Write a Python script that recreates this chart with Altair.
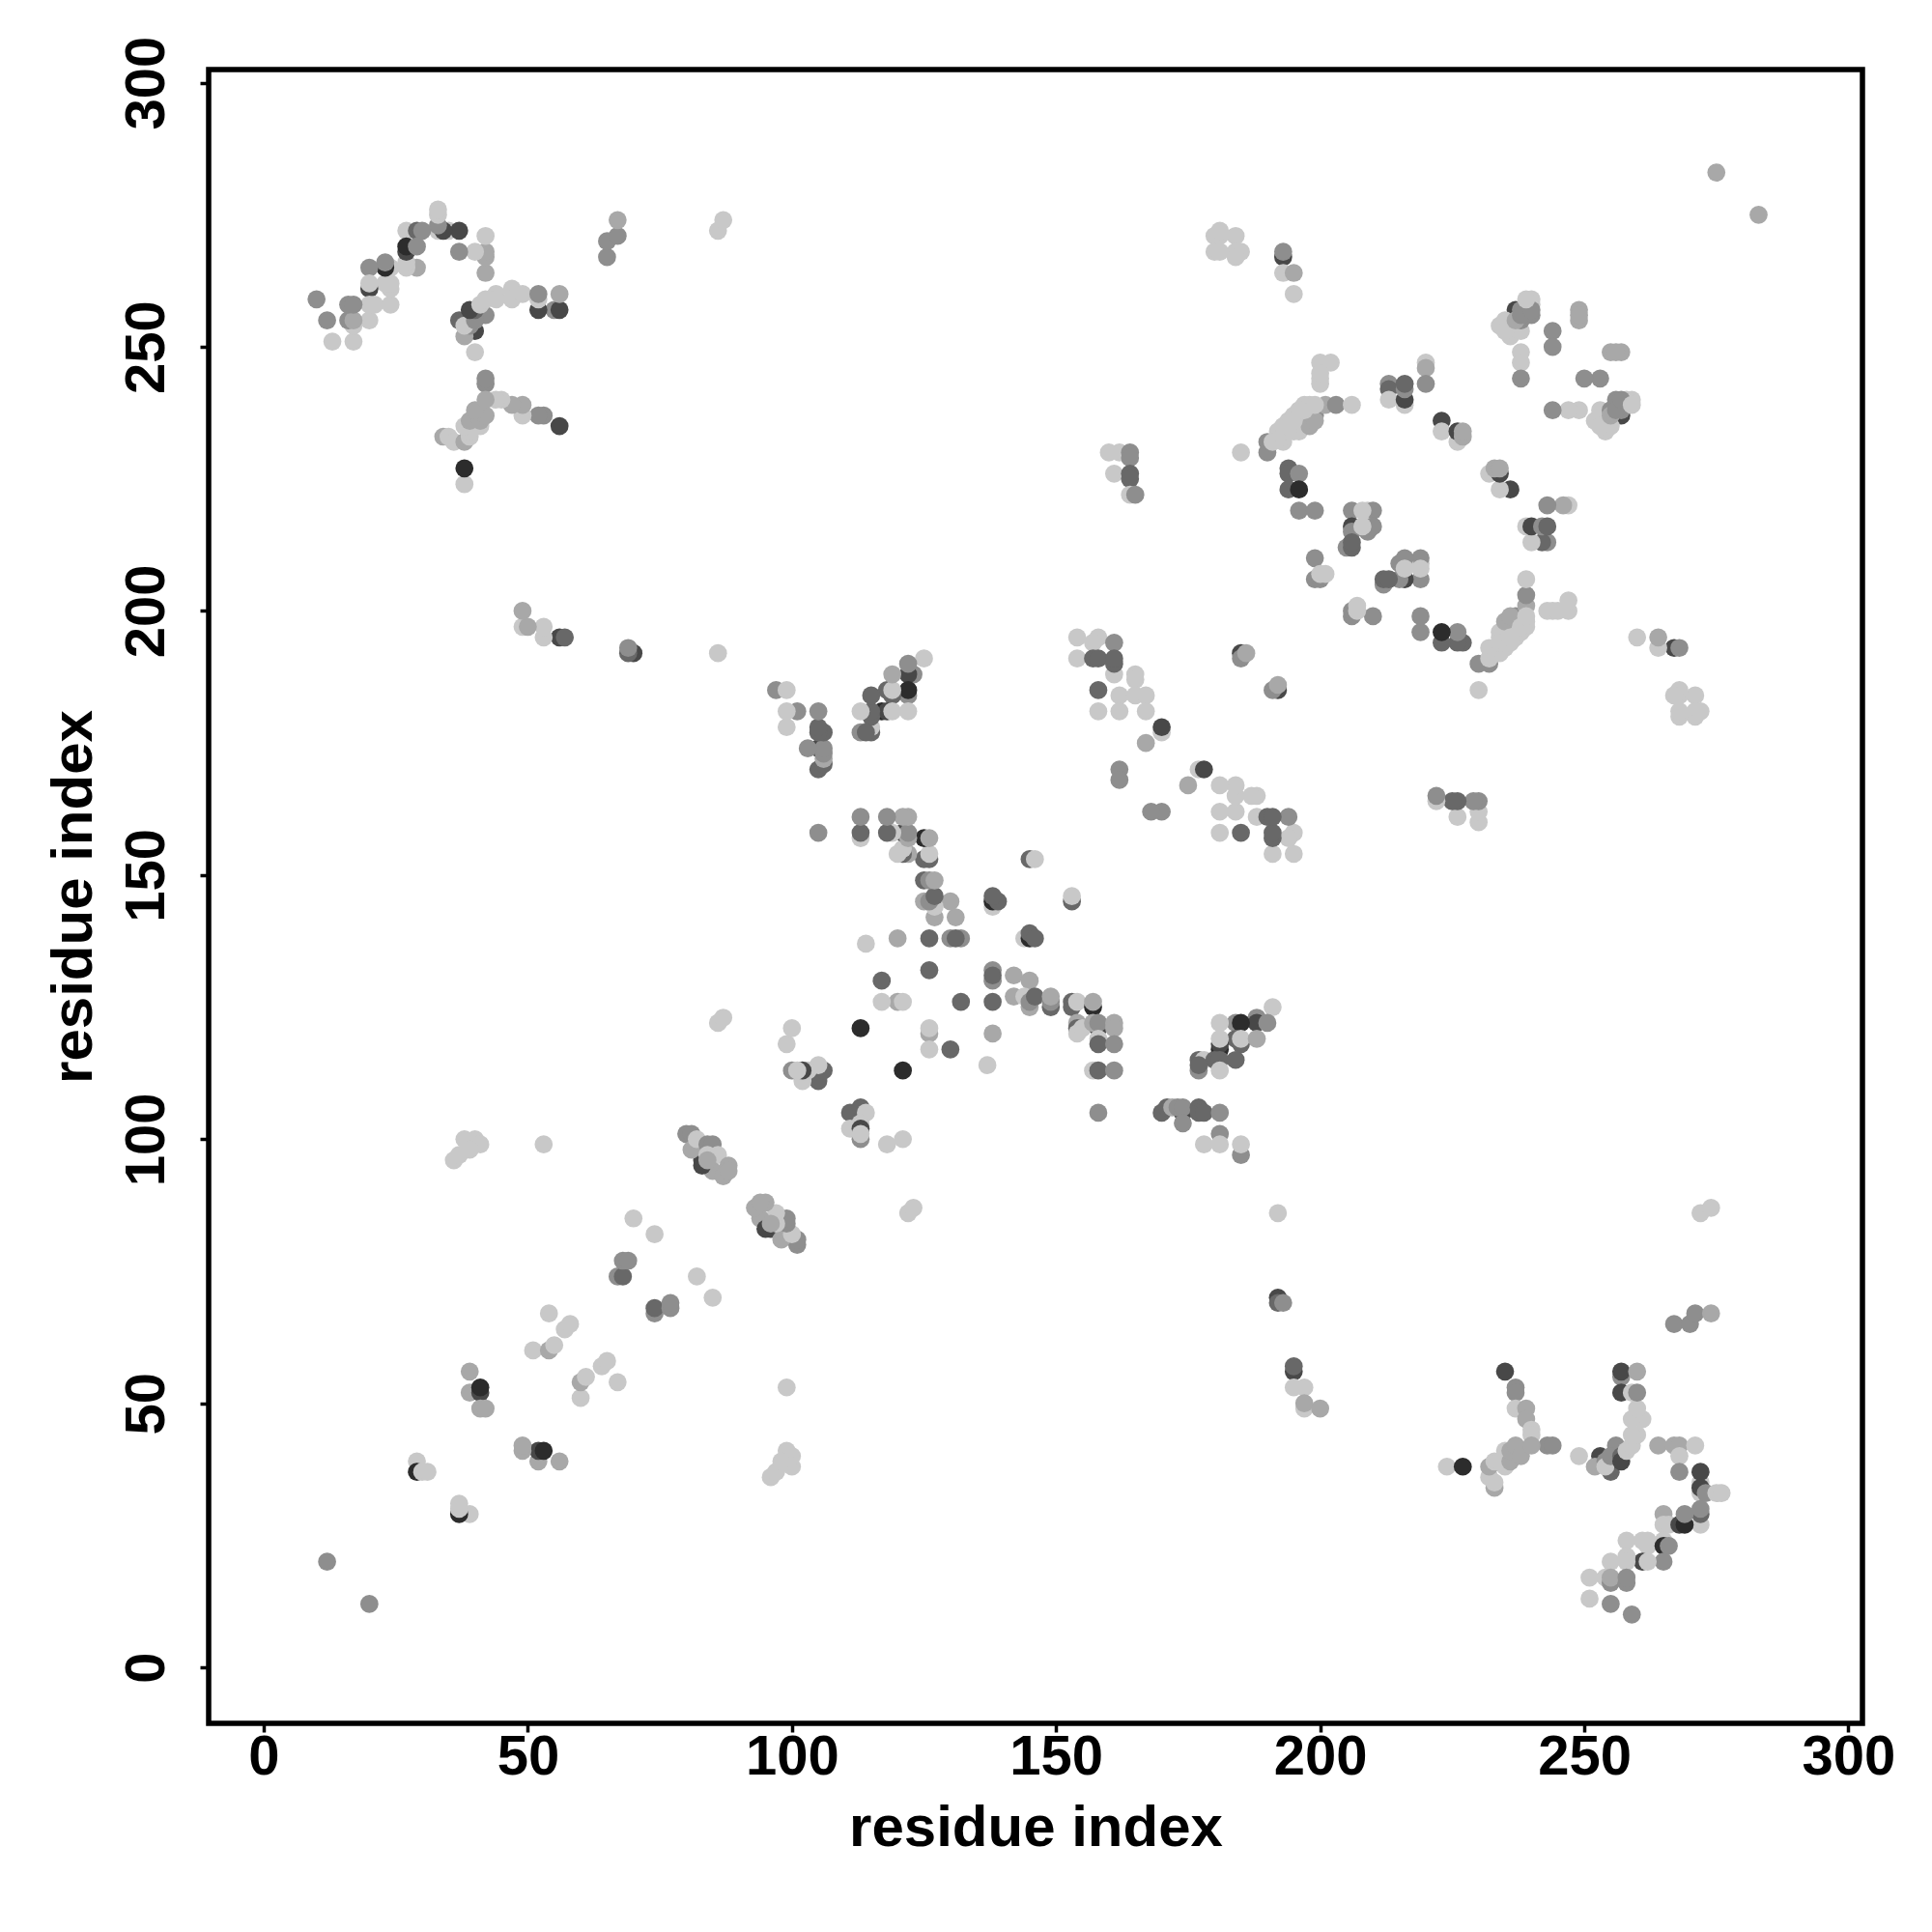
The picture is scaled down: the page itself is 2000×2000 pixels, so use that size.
import altair as alt
import pandas as pd

# Contact map: each contact (i, j, tone) with i > j; the map is symmetric.
near_diag_a = [(20,12,"M"),(29,39,"L"),(29,37,"V"),(30,37,"L"),(31,37,"L"),(37,29,"V"),(37,31,"L"),(37,30,"L"),(39,29,"L"),
 (39,56,"A"),(39,52,"A"),(41,52,"K"),(41,53,"V"),(41,49,"A"),(42,49,"A"),(49,42,"A"),(49,41,"A"),(52,41,"K"),(53,41,"V"),
 (52,39,"A"),(56,39,"M"),(51,60,"L"),(54,60,"A"),(55,61,"L"),(54,67,"L"),(57,64,"L"),(58,65,"L"),(60,51,"L"),(60,54,"A"),
 (61,55,"L"),(64,57,"L"),(65,58,"L"),(67,54,"L"),(67,74,"M"),(68,74,"D"),(68,77,"M"),(69,77,"M"),(70,85,"L"),(74,82,"L"),
 (74,67,"M"),(74,68,"D"),(77,69,"M"),(77,68,"M"),(82,74,"L"),(85,70,"L"),(12,20,"M")]
strand_b = [(53,99,"L"),(36,96,"L"),(37,97,"L"),(38,100,"L"),(40,100,"L"),(41,99,"L"),(39,98,"L"),
 (99,53,"L"),(96,36,"L"),(97,37,"L"),(99,41,"L"),(100,40,"L"),(100,38,"L"),(98,39,"L")]
helix_c = [(83,96,"K"),(80,101,"M"),(81,101,"M"),(81,98,"A"),(82,100,"L"),(84,99,"M"),(85,99,"M"),(84,97,"L"),(86,97,"L"),
 (85,94,"A"),(87,93,"A"),(88,95,"A"),(88,94,"A"),(95,83,"K"),(93,87,"A"),(95,88,"A"),(94,85,"A"),(96,84,"A"),(97,86,"L"),
 (99,84,"M"),(98,81,"A"),(101,81,"M"),(101,80,"M"),(100,82,"L")]
centre_d = [(153,145,"D"),(153,146,"L"),(144,138,"L"),(145,138,"V"),(145,139,"D"),(146,138,"D"),(138,132,"M"),(138,130,"M"),(138,131,"D"),
 (142,131,"A"),(145,130,"A"),(142,127,"A"),(144,127,"L"),(145,125,"A"),(145,126,"M"),(146,127,"D"),(149,125,"D"),(149,126,"M"),(149,127,"A"),
 (138,126,"D"),(132,126,"D"),(126,120,"A"),(126,121,"L"),(126,117,"L"),(130,117,"D"),(138,120,"A"),(137,114,"L"),(121,113,"V"),
 (153,126,"D"),(153,125,"D"),(154,126,"L"),(157,125,"V"),(157,126,"A"),(154,122,"A"),(154,121,"D"),(154,120,"L"),(155,121,"L"),
 (158,121,"K"),(157,122,"A"),(158,122,"M"),(158,119,"L"),(158,118,"D"),(161,122,"A"),(161,121,"A"),(161,118,"M"),
 (157,113,"L"),(158,113,"D"),(161,113,"M"),(158,105,"M"),(111,105,"D"),(113,106,"D"),(114,105,"L"),(113,103,"L"),(111,102,"L"),
 (113,100,"M"),(113,102,"K"),(113,101,"L"),(118,99,"L"),(121,100,"L")]
bridge_e = [(170,105,"D"),(171,106,"D"),(172,106,"A"),(174,105,"K"),(173,106,"M"),(174,106,"M"),(174,103,"M"),(177,106,"D"),(177,105,"D"),(178,105,"D"),
 (181,105,"M"),(181,101,"M"),(178,99,"L"),(181,99,"L"),(185,97,"M"),(185,99,"L"),
 (191,125,"L"),(188,123,"M"),(188,122,"K"),(184,122,"M"),(185,122,"V"),(181,122,"L"),(190,122,"M"),(184,119,"D"),(185,118,"D"),(185,119,"L"),(188,119,"A"),
 (181,117,"V"),(181,118,"K"),(181,119,"L"),(177,115,"D"),(178,115,"L"),(180,115,"D"),(181,115,"D"),(184,115,"D"),(177,113,"M"),(177,114,"D"),(181,113,"L")]
sheet_f = [(154,195,"L"),(158,195,"L"),(157,194,"L"),(161,194,"M"),(154,191,"L"),(157,191,"D"),(158,191,"D"),(161,188,"L"),(161,190,"D"),(161,191,"D"),
 (165,188,"L"),(165,187,"L"),(158,185,"D"),(162,184,"L"),(165,184,"L"),(167,184,"L"),(158,181,"L"),(162,181,"L"),(167,181,"L"),
 (170,177,"L"),(170,178,"K"),(167,175,"A"),(162,170,"M"),(162,168,"M"),(168,162,"M"),(170,162,"M"),(177,170,"L"),(178,170,"K"),(175,167,"A"),
 (181,167,"L"),(184,167,"L"),(184,165,"A"),(187,165,"L"),(188,165,"L"),(181,162,"L"),(184,162,"L"),(188,161,"L"),(190,161,"M"),(191,161,"D"),(194,161,"M"),
 (181,158,"L"),(185,158,"D"),(191,158,"D"),(191,157,"D"),(195,158,"L"),(194,157,"L"),(191,154,"L"),(195,154,"L"),
 (185,192,"K"),(185,191,"M"),(186,192,"A"),(191,185,"D"),(192,185,"K"),(192,186,"A")]
upper_g = [(160,230,"L"),(162,230,"L"),(161,226,"L"),(164,230,"M"),(164,229,"M"),(164,226,"D"),(164,225,"D"),(164,222,"L"),(165,222,"M"),
 (180,271,"L"),(180,268,"L"),(184,271,"L"),(184,268,"L"),(185,268,"L"),(184,267,"L"),(185,230,"L"),
 (193,267,"K"),(193,268,"M"),(193,264,"L"),(195,264,"A"),(195,260,"L"),(275,283,"A"),(283,275,"A")]
knot_h = [(237,257,"K"),(234,254,"L"),(235,255,"L"),(236,252,"L"),(236,253,"L"),(238,253,"L"),(238,255,"M"),(238,257,"M"),(240,256,"M"),
 (240,259,"L"),(240,258,"L"),(249,257,"A"),(249,255,"A"),(244,253,"M"),(244,250,"M"),(238,249,"L"),(238,247,"L"),(238,244,"M"),
 (255,249,"A"),(256,249,"A"),(257,249,"A"),(250,244,"M"),(253,244,"M"),(244,238,"M"),(247,238,"L"),(249,238,"L"),
 (253,238,"L"),(252,236,"L"),(253,235,"L"),(254,234,"L"),(255,235,"A"),(255,237,"A"),(257,237,"K"),(256,238,"M"),(256,240,"M"),(257,240,"M"),(258,240,"A"),(259,239,"L"),(259,240,"L")]
arc_i = [(190,232,"M"),(190,230,"M"),(198,236,"M"),(199,237,"M"),(193,232,"L"),(192,234,"L"),(195,234,"L"),(193,235,"L"),(194,236,"L"),(196,234,"L"),(197,236,"L"),(195,237,"L"),(196,238,"L"),(197,239,"L"),(198,239,"L"),
 (201,239,"A"),(203,239,"M"),(206,239,"L"),(200,247,"L"),(202,247,"L"),(200,244,"L"),(200,243,"L"),
 (213,243,"M"),(213,242,"D"),(213,240,"L"),(216,239,"L"),(216,240,"K"),(216,242,"M"),(216,243,"D"),(220,247,"L"),(220,246,"A"),(220,243,"M"),
 (223,236,"K"),(223,234,"L"),(226,232,"L"),(226,234,"K"),(227,233,"A"),(227,234,"A"),
 (194,227,"D"),(194,226,"D"),(196,226,"M"),(194,223,"D"),(196,223,"V"),(196,219,"M"),(199,219,"M")]
ring_j = [(206,219,"M"),(209,219,"L"),(210,219,"M"),(206,216,"K"),(206,215,"M"),(209,216,"L"),(209,215,"M"),(210,216,"M"),(205,212,"M"),(206,212,"D"),
 (199,210,"M"),(199,206,"M"),(200,206,"M"),(200,207,"L"),(201,207,"L"),(215,209,"M"),(216,208,"L"),(216,210,"M"),(219,208,"L"),(219,210,"M"),
 (212,205,"M"),(212,206,"D"),(213,206,"D"),(215,206,"M"),(216,206,"K"),(219,206,"M"),(206,199,"M"),(206,200,"L"),(207,200,"L"),(207,201,"L"),(210,199,"M"),
 (219,199,"A"),(219,196,"M"),(223,194,"D"),(226,196,"M"),(223,196,"V"),(226,194,"D"),(227,194,"D"),(230,190,"M"),(232,190,"M"),(230,185,"L"),
 (235,198,"A"),(236,199,"A"),(239,203,"A"),(239,201,"A"),(239,206,"L"),(232,191,"L"),(232,193,"L"),(233,193,"L"),(234,194,"L"),(235,194,"L"),(234,196,"L"),(236,195,"L"),(238,197,"L"),(239,197,"L"),(239,199,"L"),
 (244,200,"L"),(245,200,"L"),(247,202,"L"),(247,200,"L")]
ring_k = [(233,227,"A"),(232,226,"L"),(234,226,"K"),(234,227,"A"),(234,223,"L"),(236,223,"K"),(243,220,"M"),(246,220,"A"),(247,220,"L"),
 (239,216,"L"),(240,216,"K"),(242,216,"D"),(243,216,"D"),(240,213,"L"),(242,213,"D"),(243,213,"M"),
 (260,195,"L"),(264,195,"A"),(264,193,"L"),(267,193,"K"),(268,193,"M"),(268,185,"L"),(267,184,"L"),(268,184,"L"),(271,184,"L"),(268,181,"L"),(271,181,"L"),(272,181,"L")]
far_l = [(192,70,"K"),(192,69,"D"),(193,69,"M"),(192,86,"L"),(195,56,"K"),(195,57,"D"),(195,53,"L"),(197,53,"L"),(197,49,"L"),(197,50,"A"),(200,49,"A"),
 (122,86,"L"),(123,87,"L"),(272,86,"L"),(274,87,"L"),(267,65,"M"),(270,65,"M"),(271,67,"M"),(274,67,"A")]
loop_m = [(224,38,"L"),(227,38,"V"),(235,56,"K"),(237,53,"M"),(237,52,"M"),(237,49,"L"),(239,49,"A"),(239,47,"A"),(240,45,"L"),(240,44,"L"),(243,42,"M"),(244,42,"M"),
 (233,34,"A"),(233,35,"L"),(232,36,"L"),(232,38,"A"),(233,39,"L"),(234,39,"L"),(235,38,"L"),(235,41,"L"),(236,39,"A"),(236,41,"A"),(237,42,"A"),(238,40,"A"),(240,42,"A")]
loop_n = [(249,40,"L"),(253,40,"K"),(252,38,"A"),(255,37,"D"),(255,38,"D"),(254,39,"M"),(254,38,"L"),(256,42,"M"),(255,40,"M"),(257,40,"D"),(257,39,"K"),(258,41,"L"),(259,42,"L"),
 (260,44,"L"),(259,44,"L"),(261,47,"L"),(259,47,"L"),(260,49,"L"),(257,55,"M"),(257,56,"K"),(260,56,"A"),(257,52,"K"),(259,52,"L"),(260,52,"M"),
 (264,42,"A"),(267,42,"A"),(268,42,"A"),(271,42,"L"),(268,40,"L"),(268,37,"M")]
tail_o = [(272,35,"L"),(272,37,"K"),(272,33,"L"),(272,34,"K"),(273,33,"M"),(275,33,"L"),(276,33,"L"),(272,27,"L"),(272,29,"D"),(272,30,"M"),
 (265,29,"A"),(265,27,"L"),(266,27,"L"),(268,27,"K"),(269,27,"V"),(269,29,"M"),(258,24,"L"),(261,24,"L"),(262,24,"L"),(262,23,"L"),(265,24,"L"),(265,23,"V"),(266,23,"M"),
 (265,20,"M"),(261,20,"K"),(262,20,"L"),(255,20,"L"),(258,21,"L"),(258,20,"L"),(251,17,"L"),(254,17,"L"),(255,16,"M"),(255,17,"A"),(258,16,"M"),(258,17,"M"),
 (251,13,"L"),(255,12,"M"),(259,10,"M")]

tones = ["L", "A", "M", "D", "K", "V"]
greys = ["#c8c8c8", "#a8a8a8", "#8e8e8e", "#686868", "#484848", "#2c2c2c"]
tick_values = [0, 50, 100, 150, 200, 250, 300]

groups = [near_diag_a, strand_b, helix_c, centre_d, bridge_e, sheet_f, upper_g, knot_h, arc_i, ring_j, ring_k, far_l, loop_m, loop_n, tail_o]
seen = {}
for group in groups:
    for i, j, t in group:
        seen.setdefault((i, j), t)
        seen.setdefault((j, i), t)
df = pd.DataFrame([{"i": k[0], "j": k[1], "tone": v} for k, v in seen.items()])

FONT = "Liberation Sans"
SIZE = 58

def axis(**kw):
    return alt.Axis(values=tick_values, grid=False, domain=False, format="d", title="residue index",
                    tickColor="black", tickWidth=3.5, tickSize=9,
                    labelFont=FONT, labelFontSize=SIZE, labelFontWeight="bold", labelColor="black",
                    titleFont=FONT, titleFontSize=60, titleFontWeight="bold", titleColor="black",
                    labelOverlap=False, labelFlush=False, **kw)

chart = alt.Chart(df).mark_circle(size=350, opacity=1).encode(
    x=alt.X("i:Q", scale=alt.Scale(domain=[-10.42, 302.66], nice=False, zero=False),
            axis=axis(labelPadding=-3, titlePadding=15)),
    y=alt.Y("j:Q", scale=alt.Scale(domain=[-10.6, 302.5], nice=False, zero=False),
            axis=axis(labelAngle=270, labelAlign="center", labelBaseline="bottom", labelPadding=26, titlePadding=16)),
    color=alt.Color("tone:N", scale=alt.Scale(domain=tones, range=greys), legend=None),
).properties(
    width=1712, height=1712,
    autosize=alt.AutoSizeParams(type="none"),
    padding={"left": 208, "top": 64, "right": 50, "bottom": 200},
    background="white",
).configure_view(stroke="black", strokeWidth=5.5)

chart.save("out.html", embed_options={"renderer": "svg", "actions": False})
